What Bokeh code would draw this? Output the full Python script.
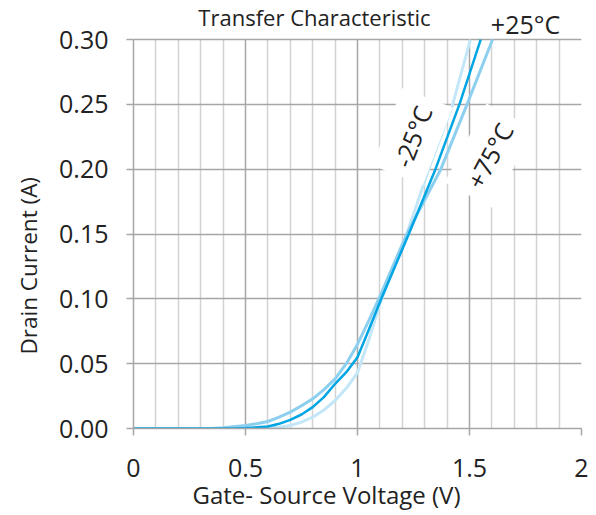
from bokeh.plotting import figure
from bokeh.models import Range1d, Label, Title, FixedTicker, NumeralTickFormatter, Grid
from bokeh.embed import file_html
from bokeh.resources import INLINE

# Gate-source voltage (V) and drain current (A)
vgs_m25 = [0, 0.5, 0.6, 0.65, 0.7, 0.75, 0.8, 0.85, 0.9, 0.95, 1.0, 1.05, 1.1,
           1.22, 1.318, 1.425, 1.504]
id_m25 = [0, 0, 0.0003, 0.001, 0.0023, 0.0049, 0.0087, 0.0142, 0.0216, 0.031, 0.043,
          0.068, 0.096, 0.15, 0.2, 0.25, 0.3]

vgs_25 = [0, 0.45, 0.5, 0.6, 0.65, 0.7, 0.75, 0.8, 0.85, 0.9, 0.95, 1.0, 1.05, 1.106,
          1.229, 1.348, 1.455, 1.55]
id_25 = [0, 0, 0.0003, 0.0015, 0.0036, 0.0067, 0.0108, 0.0165, 0.0242, 0.0345, 0.0434,
         0.055, 0.076, 0.1, 0.15, 0.2, 0.25, 0.3]

vgs_75 = [0, 0.35, 0.4, 0.5, 0.55, 0.6, 0.65, 0.7, 0.75, 0.8, 0.85, 0.9, 0.95, 1.0, 1.05,
          1.1, 1.22, 1.372, 1.489, 1.603]
id_75 = [0, 0, 0.0005, 0.0023, 0.0037, 0.0054, 0.0087, 0.0126, 0.0175, 0.0229, 0.030,
         0.0383, 0.050, 0.065, 0.083, 0.102, 0.15, 0.2, 0.25, 0.3]

x_ticks = [0, 0.5, 1, 1.5, 2]
x_minor = [0.1, 0.2, 0.3, 0.4, 0.6, 0.7, 0.8, 0.9, 1.1, 1.2, 1.3, 1.4, 1.6, 1.7, 1.8, 1.9]
y_ticks = [0, 0.05, 0.1, 0.15, 0.2, 0.25, 0.3]

title_text = "Transfer Characteristic"
x_title = "Gate- Source Voltage (V)"
y_title = "Drain Current (A)"
series_labels = ["-25°C", "+25°C", "+75°C"]

FONT = "Open Sans"
GRID_DARK = "#a6a6a6"
GRID_LIGHT = "#d2d2d2"
TXT = "#222222"

y_max = y_ticks[-1]
p = figure(width=590, height=512, x_range=Range1d(0, 2), y_range=Range1d(0, 0.3301),
           output_backend="svg", toolbar_location=None,
           min_border_left=133, min_border_right=9, min_border_top=0, min_border_bottom=84)
p.background_fill_color = "white"
p.border_fill_color = "white"
p.outline_line_color = None

p.xaxis.ticker = FixedTicker(ticks=x_ticks, minor_ticks=x_minor)
p.yaxis.ticker = FixedTicker(ticks=y_ticks)
p.xaxis.formatter = NumeralTickFormatter(format="0.[0]")
p.yaxis.formatter = NumeralTickFormatter(format="0.00")
p.yaxis.bounds = (0, y_max)

for ax in (p.xaxis, p.yaxis):
    ax.axis_line_color = GRID_DARK
    ax.axis_line_width = 1.5
    ax.major_tick_line_color = GRID_DARK
    ax.major_tick_line_width = 1.5
    ax.major_tick_in = 0
    ax.major_tick_out = 7
    ax.minor_tick_line_color = None
    ax.major_label_text_font = FONT
    ax.major_label_text_font_size = "25px"
    ax.major_label_text_color = TXT
p.xaxis.major_label_standoff = 23
p.yaxis.major_label_standoff = 18

p.xgrid.grid_line_color = GRID_DARK
p.xgrid.grid_line_width = 1.5
p.xgrid.minor_grid_line_color = GRID_LIGHT
p.xgrid.minor_grid_line_width = 1.5
if "cross_bounds" in Grid.properties():
    p.xgrid.cross_bounds = (0, y_max)
p.ygrid.grid_line_color = GRID_DARK
p.ygrid.grid_line_width = 1.5

p.line(vgs_m25, id_m25, line_color="#c3e7f8", line_width=3)
p.line(vgs_75, id_75, line_color="#8dcfef", line_width=3)
p.line(vgs_25, id_25, line_color="#00a5e3", line_width=2.5)

p.add_layout(Label(x=1.2455, y=0.2252, text=series_labels[0], angle=69, angle_units="deg",
                   text_align="center", text_baseline="middle", text_font=FONT,
                   text_font_size="25px", text_color=TXT,
                   background_fill_color="white", padding=10))
p.add_layout(Label(x=1.589, y=0.2105, text=series_labels[2], angle=62, angle_units="deg",
                   text_align="center", text_baseline="middle", text_font=FONT,
                   text_font_size="25px", text_color=TXT,
                   background_fill_color="white", padding=10))
p.add_layout(Label(x=1.75, y=0.3116, text=series_labels[1],
                   text_align="center", text_baseline="middle", text_font=FONT,
                   text_font_size="25px", text_color=TXT))
p.add_layout(Label(x=0.808, y=0.3177, text=title_text, text_align="center",
                   text_baseline="alphabetic", text_font=FONT, text_font_size="22px",
                   text_color=TXT))

p.add_layout(Title(text=x_title, align="left", offset=59, vertical_align="top", standoff=-4,
                   text_font=FONT, text_font_size="24px", text_font_style="normal",
                   text_color=TXT), "below")
p.add_layout(Title(text=y_title, align="left", offset=74, vertical_align="top", standoff=22,
                   text_font=FONT, text_font_size="22.5px", text_font_style="normal",
                   text_color=TXT), "left")

open("out.html", "w").write(file_html(p, INLINE))
